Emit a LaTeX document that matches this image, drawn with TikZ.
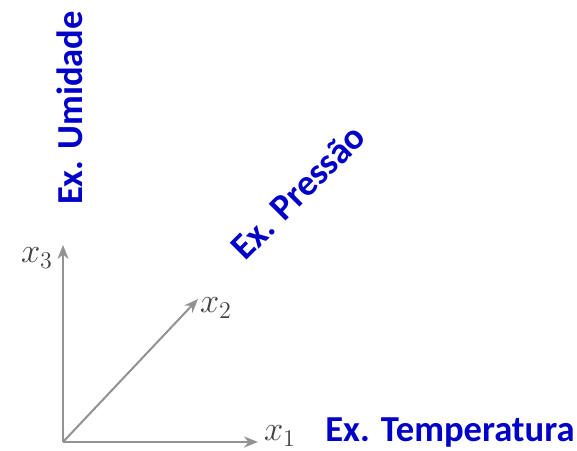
\documentclass[tikz,border=0pt]{standalone}
\usepackage{fontspec}
\usepackage{xcolor}
\usepackage{tikz}
\usetikzlibrary{arrows.meta,positioning}
\newfontfamily\exfont{Carlito}
\definecolor{axis}{HTML}{929294}
\definecolor{exblue}{HTML}{0000C8}
\tikzset{
  ax/.style={-{Stealth[length=7pt,width=5.5pt]}, line width=1pt, draw=axis},
  axlbl/.style={inner sep=0pt, font=\fontsize{17}{20}\selectfont, text=black!75},
  ex/.style={inner sep=0pt, font=\exfont\bfseries\fontsize{18.3}{21}\selectfont,
             text=exblue},
}
\begin{document}
\begin{tikzpicture}[x=0.5pt, y=0.5pt]
  \useasboundingbox (0,0) rectangle (577,450);
  % eixos
  \coordinate (o) at (63,8);
  \coordinate (e1) at (258,8);
  \coordinate (e2) at (198,151);
  \coordinate (e3) at (63,205);
  \draw[ax] (o) -- (e1);
  \draw[ax] (o) -- (e2);
  \draw[ax] (o) -- (e3);
  \node[axlbl] (l1) at (280,14) {$x_1$};
  \node[axlbl] (l2) at (216,142) {$x_2$};
  \node[axlbl] (l3) at (37,192) {$x_3$};

  % exemplos de variáveis
  \node[ex] (temp) at (450,17) {Ex. Temperatura};
  \node[ex, rotate=45] (pres) at (298,258) {Ex. Pressão};
  \node[ex, rotate=90] (umid) at (70,342) {Ex. Umidade};
\end{tikzpicture}
\end{document}
